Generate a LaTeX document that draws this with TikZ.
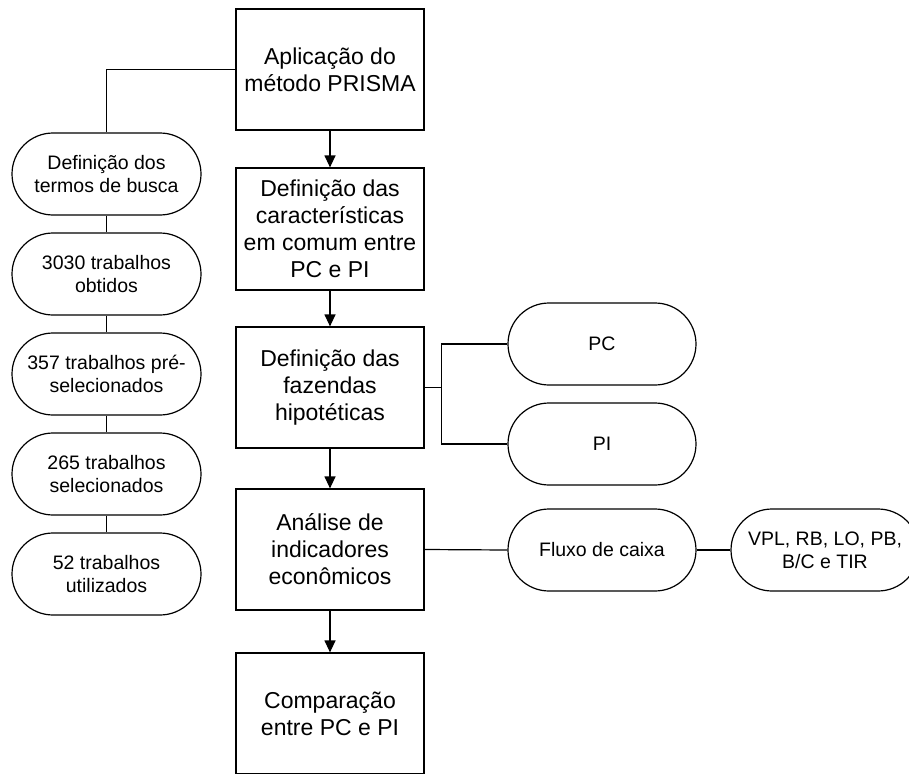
\documentclass[tikz,border=0pt]{standalone}
\usepackage{fontspec}
\setmainfont{Liberation Sans}
\usetikzlibrary{arrows.meta}
\begin{document}
\begin{tikzpicture}[x=1pt,y=-1pt,
  line width=1.2pt,
  stepbox/.style={draw, rectangle, minimum width=188pt, minimum height=121pt,
    inner sep=2pt, align=center, font=\fontsize{23}{27}\selectfont},
  pill/.style={draw, rectangle, rounded corners=41pt, minimum width=189pt,
    minimum height=82pt, inner sep=2pt, align=center, font=\fontsize{19.5}{23}\selectfont},
  flow/.style={-{Triangle[length=12pt,width=11pt]}},
  link/.style={-}]
\useasboundingbox (0,0) rectangle (909,773);
\clip (0,0) rectangle (909,773);

% main sequence of steps
\node[stepbox] (b1) at (330,69.5)  {Aplicação do\\método PRISMA};
\node[stepbox, minimum height=122pt] (b2) at (330,229) {Definição das\\características\\em comum entre\\PC e PI};
\node[stepbox] (b3) at (330,387.5) {Definição das\\fazendas\\hipotéticas};
\node[stepbox] (b4) at (330,549.5) {Análise de\\indicadores\\econômicos};
\node[stepbox] (b5) at (330,713.5) {Comparação\\entre PC e PI};

% literature search branch
\node[pill] (p1) at (106.5,174) {Definição dos\\termos de busca};
\node[pill] (p2) at (106.5,274) {3030 trabalhos\\obtidos};
\node[pill] (p3) at (106.5,374) {357 trabalhos pré-\\selecionados};
\node[pill] (p4) at (106.5,474) {265 trabalhos\\selecionados};
\node[pill] (p5) at (106.5,574) {52 trabalhos\\utilizados};

% farm types
\node[pill, minimum width=188pt] (pc) at (602,344) {PC};
\node[pill, minimum width=188pt] (pi) at (602,444) {PI};

% indicators
\node[pill, minimum width=188pt] (fc) at (602,550) {Fluxo de caixa};
\node[pill, minimum width=188pt] (ind) at (825,550) {VPL, RB, LO, PB,\\B/C e TIR};

% connectors
\draw[flow] (b1) -- (b2);
\draw[flow] (b2) -- (b3);
\draw[flow] (b3) -- (b4);
\draw[flow] (b4) -- (b5);

\draw[link] (b1.west) -| (p1.north);
\draw[link] (p1) -- (p2);
\draw[link] (p2) -- (p3);
\draw[link] (p3) -- (p4);
\draw[link] (p4) -- (p5);

\coordinate (fork) at ([xshift=17pt]b3.east);
\draw[link] (b3.east) -- (fork);
\draw[link] (fork) |- (pc.west);
\draw[link] (fork) |- (pi.west);

\draw[link] (b4.east) -- (fc.west);
\draw[link] (fc.east) -- (ind.west);
\end{tikzpicture}
\end{document}
